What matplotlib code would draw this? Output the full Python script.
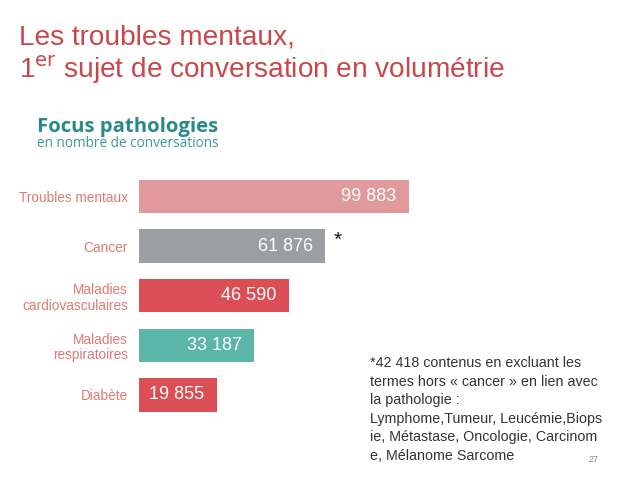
import matplotlib
matplotlib.use("Agg")
import matplotlib.pyplot as plt
import numpy as np

categories = ["Troubles mentaux", "Cancer", "Maladies\ncardiovasculaires",
              "Maladies\nrespiratoires", "Diabète"]
values = [99883, 61876, 46590, 33187, 19855]
bar_colors = ["#E09A9B", "#9B9EA3", "#DC4E55", "#5BB5A8", "#DC4E55"]
footnote_lines = ["*42 418 contenus en excluant les",
                  "termes hors « cancer » en lien avec",
                  "la pathologie :",
                  "Lymphome,Tumeur, Leucémie,Biops",
                  "ie, Métastase, Oncologie, Carcinom",
                  "e, Mélanome Sarcome"]

W, H = 638, 479
fig = plt.figure(figsize=(W / 100, H / 100), dpi=100)
fig.patch.set_facecolor("white")

def fx(px):
    return px / W

def fy(py):
    return 1 - py / H

# Title
title_color = "#C9474B"
fig.text(fx(19), fy(44), "Les troubles mentaux,", fontsize=20.2,
         color=title_color, family="Liberation Sans", va="baseline")
fig.text(fx(19), fy(78), r"1$^{\mathrm{er}}$ sujet de conversation en volumétrie",
         fontsize=20.2, color=title_color, family="Liberation Sans", va="baseline")

# Subtitle block
fig.text(fx(37), fy(132), "Focus pathologies", fontsize=14.6, fontweight="bold",
         color="#2A8A86", family="Open Sans", va="baseline")
fig.text(fx(37), fy(147), "en nombre de conversations", fontsize=9.8,
         color="#3C9A95", family="Open Sans", va="baseline")

# Bars (the source graphic uses a compressed, non-linear bar length)
ax = fig.add_axes([fx(139), 1 - 419.7 / H, 269.8 / W, 248 / H])
p = 0.77
ax.set_xscale("function", functions=(lambda x: np.sign(x) * np.abs(x) ** p,
                                     lambda x: np.sign(x) * np.abs(x) ** (1 / p)))
ypos = list(range(len(values)))
ax.barh(ypos, values, height=0.67, color=bar_colors)
ax.set_xlim(0, 100000)
ax.set_ylim(len(values) - 0.5, -0.5)
ax.set_yticks(ypos)
ax.set_yticklabels(categories, fontsize=9.8, color="#E07A72",
                   family="Liberation Sans", linespacing=1.15)
ax.tick_params(axis="y", length=0, pad=8)
ax.set_xticks([])
ax.minorticks_off()
for s in ax.spines.values():
    s.set_visible(False)

for y, v in zip(ypos, values):
    ax.annotate(f"{v:,}".replace(",", " "), xy=(v, y), xytext=(-9, 0),
                textcoords="offset points", ha="right", va="center",
                color="white", fontsize=13, family="Liberation Sans")

ax.annotate("*", xy=(values[1], 1), xytext=(6, -3), textcoords="offset points",
            ha="left", va="bottom", fontsize=15, color="#111111",
            family="Liberation Sans", annotation_clip=False)

# Footnote
for i, line in enumerate(footnote_lines):
    fig.text(fx(370), fy(367 + 18.6 * i), line, fontsize=10.3, color="#333333",
             family="Liberation Sans", va="baseline", ha="left")
fig.text(fx(589), fy(462), "27", fontsize=6.5, color="#888888",
         family="Liberation Sans", va="baseline")

fig.savefig("out.png", dpi=100, facecolor="white")
